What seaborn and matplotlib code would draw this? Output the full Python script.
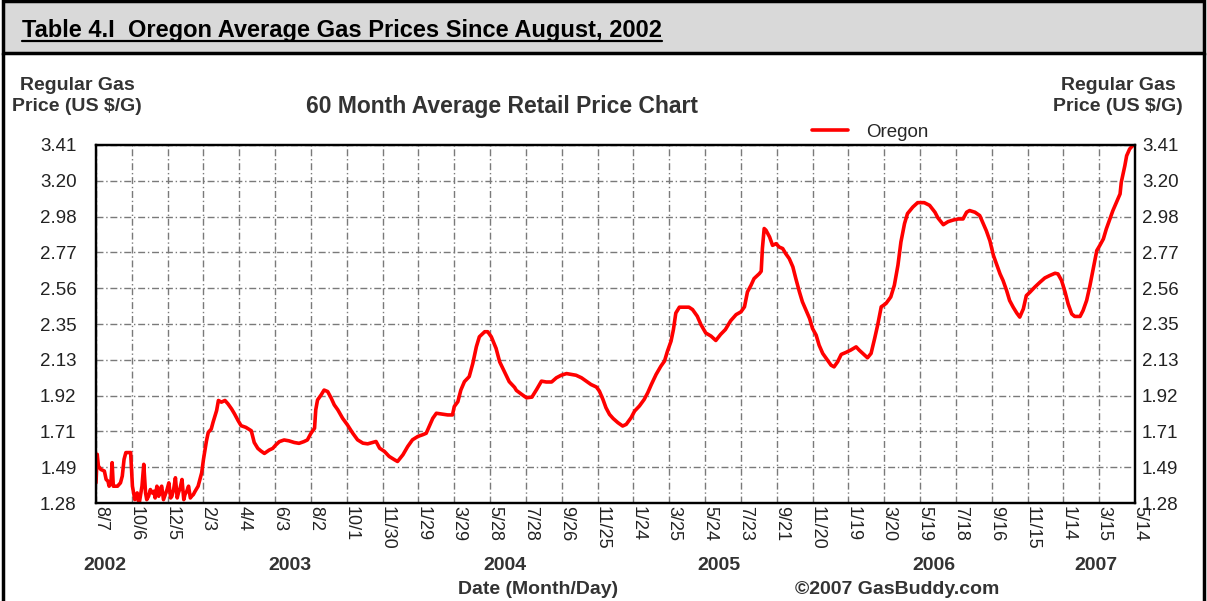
import numpy as np
import pandas as pd
import matplotlib
matplotlib.use("Agg")
import matplotlib.pyplot as plt
import matplotlib.transforms as mtransforms
from matplotlib.patches import Rectangle
from matplotlib.lines import Line2D
import seaborn as sns

# ---- data ----
# days since 8/7/2002, average regular gas price in Oregon (US $/gal)
day_offsets = [
    0, 2, 4, 8, 14, 17, 20, 22, 25, 27, 29, 36, 41, 44, 47, 50, 58, 61, 65, 69,
    72, 77, 80, 83, 85, 88, 91, 94, 97, 99, 102, 105, 107, 110, 113, 116, 119, 122, 125, 127,
    130, 133, 136, 138, 141, 144, 147, 149, 152, 155, 158, 160, 163, 166,
    171, 177, 180, 185, 188, 193, 196, 202, 205, 210, 216, 221, 227, 232, 238, 243, 251, 260, 265, 271,
    276, 282, 290, 296, 301, 307, 315, 323, 332, 340, 348, 354, 360, 366, 368, 371, 377, 382, 388, 394,
    399, 405, 413, 421, 430, 438, 447, 455, 463, 469, 475, 483, 491, 500, 505, 514, 522, 530, 539, 547,
    553, 558, 564, 570, 578, 589, 597, 600, 606, 611, 617, 625, 631, 637, 642, 651, 656, 662, 670, 676,
    684, 692, 701, 704, 713, 721, 730, 738, 746, 754, 763, 771, 779, 788, 796, 804, 813, 821, 829, 838,
    843, 849, 854, 860, 866, 874, 882, 888, 896, 902, 910, 918, 924, 930, 938, 946, 952, 957, 963, 967,
    971, 977, 985, 993, 999, 1007, 1013, 1021, 1030, 1038, 1046, 1054, 1063, 1072, 1080, 1086, 1091, 1097, 1102, 1111,
    1114, 1116, 1119, 1122, 1128, 1133, 1139, 1144, 1150, 1155, 1161, 1167, 1172, 1178, 1183, 1189, 1195, 1200, 1206, 1211,
    1217, 1225, 1231, 1236, 1242, 1248, 1256, 1264, 1273, 1278, 1287, 1292, 1298, 1304, 1309, 1315, 1323, 1331, 1337, 1343,
    1348, 1354, 1359, 1368, 1376, 1387, 1396, 1405, 1410, 1419, 1427, 1436, 1444, 1452, 1458, 1463, 1472, 1480, 1486, 1491,
    1497, 1503, 1508, 1514, 1519, 1525, 1530, 1536, 1542, 1547, 1553, 1558, 1564, 1572, 1581, 1589, 1597, 1606, 1611, 1617,
    1623, 1628, 1634, 1639, 1648, 1653, 1659, 1664, 1670, 1676, 1681, 1687, 1692, 1698, 1703, 1709, 1715, 1717, 1720, 1723,
    1726, 1731, 1736, 1740,
]
prices = [
    1.40, 1.57, 1.50, 1.48, 1.47, 1.42, 1.41, 1.38, 1.40, 1.52, 1.38, 1.38, 1.40, 1.44, 1.54, 1.58, 1.58, 1.38, 1.30, 1.34,
    1.27, 1.38, 1.51, 1.34, 1.30, 1.32, 1.36, 1.34, 1.35, 1.31, 1.38, 1.32, 1.36, 1.38, 1.30, 1.33, 1.36, 1.40, 1.31, 1.32,
    1.36, 1.43, 1.31, 1.34, 1.37, 1.42, 1.30, 1.33, 1.35, 1.38, 1.31, 1.32, 1.33, 1.35,
    1.38, 1.46, 1.54, 1.65, 1.70, 1.72, 1.76, 1.83, 1.89, 1.88, 1.89, 1.87, 1.84, 1.81, 1.77, 1.74, 1.73, 1.71, 1.64, 1.605,
    1.59, 1.575, 1.595, 1.605, 1.625, 1.645, 1.655, 1.65, 1.64, 1.635, 1.645, 1.655, 1.695, 1.725, 1.834, 1.893, 1.923, 1.952, 1.943, 1.903,
    1.864, 1.834, 1.784, 1.745, 1.695, 1.656, 1.636, 1.632, 1.64, 1.646, 1.606, 1.587, 1.557, 1.537, 1.527, 1.567, 1.616, 1.656, 1.676, 1.686,
    1.695, 1.735, 1.784, 1.814, 1.81, 1.804, 1.804, 1.854, 1.883, 1.952, 2.002, 2.032, 2.11, 2.21, 2.269, 2.299, 2.299, 2.269, 2.20, 2.12,
    2.061, 2.002, 1.968, 1.95, 1.926, 1.906, 1.91, 1.956, 2.005, 2.0, 2.0, 2.025, 2.04, 2.05, 2.045, 2.04, 2.025, 2.005, 1.985, 1.97,
    1.946, 1.896, 1.847, 1.807, 1.783, 1.758, 1.738, 1.748, 1.787, 1.827, 1.857, 1.896, 1.936, 1.985, 2.045, 2.094, 2.124, 2.183, 2.243, 2.312,
    2.41, 2.445, 2.445, 2.445, 2.431, 2.391, 2.342, 2.292, 2.273, 2.247, 2.283, 2.312, 2.365, 2.401, 2.417, 2.447, 2.536, 2.576, 2.615, 2.645,
    2.659, 2.794, 2.913, 2.903, 2.863, 2.813, 2.823, 2.803, 2.794, 2.764, 2.734, 2.685, 2.615, 2.536, 2.477, 2.427, 2.378, 2.318, 2.279, 2.219,
    2.17, 2.13, 2.10, 2.09, 2.12, 2.164, 2.176, 2.19, 2.209, 2.19, 2.16, 2.144, 2.17, 2.259, 2.338, 2.447, 2.467, 2.506, 2.576, 2.695,
    2.833, 2.942, 3.002, 3.041, 3.067, 3.067, 3.051, 3.01, 2.976, 2.936, 2.954, 2.964, 2.97, 2.97, 3.01, 3.02, 3.01, 2.99, 2.94, 2.90,
    2.84, 2.752, 2.703, 2.643, 2.604, 2.544, 2.485, 2.445, 2.41, 2.386, 2.435, 2.514, 2.534, 2.564, 2.594, 2.619, 2.633, 2.647, 2.643, 2.604,
    2.534, 2.465, 2.405, 2.39, 2.39, 2.425, 2.485, 2.564, 2.673, 2.782, 2.812, 2.851, 2.911, 2.97, 3.02, 3.069, 3.119, 3.188, 3.237, 3.287,
    3.346, 3.386, 3.406, 3.41,
]

x_tick_labels = ['8/7', '10/6', '12/5', '2/3', '4/4', '6/3', '8/2', '10/1', '11/30', '1/29',
                 '3/29', '5/28', '7/28', '9/26', '11/25', '1/24', '3/25', '5/24', '7/23', '9/21',
                 '11/20', '1/19', '3/20', '5/19', '7/18', '9/16', '11/15', '1/14', '3/15', '5/14']
tick_step_days = 60
y_tick_labels = ['1.28', '1.49', '1.71', '1.92', '2.13', '2.35', '2.56', '2.77', '2.98', '3.20', '3.41']
years = ['2002', '2003', '2004', '2005', '2006', '2007']
year_label_days = [15, 325, 685, 1043, 1403, 1675]

df = pd.DataFrame({'day': day_offsets, 'price': prices})

# ---- style ----
sns.set_style('white')
plt.rcParams['font.family'] = ['Liberation Sans', 'DejaVu Sans']

W, H = 1207, 601
fig = plt.figure(figsize=(W / 100, H / 100), dpi=100)


def fx(px):
    return px / W


def fy(py):
    return 1 - py / H


# header band + frame
fig.patches.append(Rectangle((fx(3), fy(53)), fx(1201), 52 / H, transform=fig.transFigure,
                             facecolor='#d9d9d9', edgecolor='black', lw=2.5, zorder=0))
fig.add_artist(Line2D([fx(3), fx(3)], [0, fy(53)], color='black', lw=2.5))
fig.add_artist(Line2D([fx(1204), fx(1204)], [0, fy(53)], color='black', lw=2.5))

header = fig.text(fx(22), fy(30), 'Table 4.I  Oregon Average Gas Prices Since August, 2002',
                  fontsize=17, fontweight='bold', ha='left', va='center', color='black')

# ---- axes ----
ax = fig.add_axes([fx(96), fy(503), fx(1135) - fx(96), (503 - 145) / H])
sns.lineplot(data=df, x='day', y='price', ax=ax, color='red', lw=2.6, label='Oregon')

y_ticks = np.linspace(1.28, 3.41, len(y_tick_labels))
x_ticks = [i * tick_step_days for i in range(len(x_tick_labels))]

ax.set_xlim(x_ticks[0], x_ticks[-1])
ax.set_ylim(y_ticks[0], y_ticks[-1])
ax.set_xticks(x_ticks)
ax.set_xticklabels(x_tick_labels)
ax.set_yticks(y_ticks)
ax.set_yticklabels(y_tick_labels)
ax.set_xlabel('')
ax.set_ylabel('')

ax.grid(True, color='#7a7a7a', lw=1.0, linestyle=(0, (5, 2, 1, 2)))
ax.tick_params(axis='x', length=0, pad=2, labelsize=13, labelcolor='#222222')
ax.tick_params(axis='y', length=0, pad=14, labelsize=13.5, labelcolor='#222222')
plt.setp(ax.get_xticklabels(), rotation=-90, rotation_mode='anchor', ha='left', va='baseline')
for sp in ax.spines.values():
    sp.set_color('black')
    sp.set_linewidth(1.6)

ax2 = ax.twinx()
ax2.set_ylim(ax.get_ylim())
ax2.set_yticks(y_ticks)
ax2.set_yticklabels(y_tick_labels)
ax2.tick_params(axis='y', length=0, pad=5, labelsize=13.5, labelcolor='#222222')
for sp in ax2.spines.values():
    sp.set_color('black')
    sp.set_linewidth(1.6)

ax.legend(loc='center left', bbox_to_anchor=(fx(812), fy(132)), bbox_transform=fig.transFigure,
          frameon=False, fontsize=13.5, handlelength=1.9, handletextpad=1.0,
          borderpad=0, borderaxespad=0)

# ---- surrounding text ----
lab = dict(fontsize=14, fontweight='bold', color='#333333', ha='center', va='center')
fig.text(fx(77), fy(86), 'Regular Gas', **lab)
fig.text(fx(77), fy(106), 'Price (US $/G)', **lab)
fig.text(fx(1118), fy(86), 'Regular Gas', **lab)
fig.text(fx(1118), fy(106), 'Price (US $/G)', **lab)
fig.text(fx(502), fy(106), '60 Month Average Retail Price Chart', fontsize=16.5,
         fontweight='bold', color='#333333', ha='center', va='center')

year_tr = mtransforms.blended_transform_factory(ax.transData, fig.transFigure)
for yr, d in zip(years, year_label_days):
    ax.text(d, fy(565), yr, transform=year_tr, **lab)
fig.text(fx(538), fy(590), 'Date (Month/Day)', **lab)
fig.text(fx(897), fy(590), '\u00a92007 GasBuddy.com', **lab)

# underline the header
fig.canvas.draw()
bb = header.get_window_extent()
fig.add_artist(Line2D([bb.x0 / W, bb.x1 / W], [fy(41), fy(41)], color='black', lw=1.6))

fig.savefig('out.png', dpi=100)
